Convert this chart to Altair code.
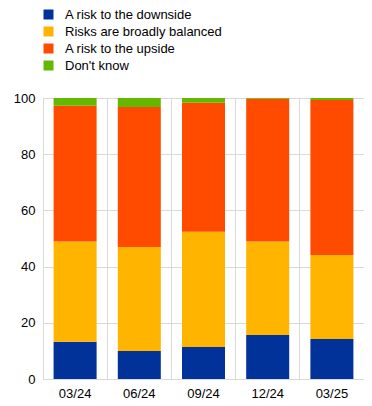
import altair as alt
import pandas as pd

periods = ["03/24", "06/24", "09/24", "12/24", "03/25"]
categories = ["A risk to the downside", "Risks are broadly balanced", "A risk to the upside", "Don't know"]
downside = [13.3, 10.0, 11.4, 15.7, 14.2]
balanced = [35.6, 37.0, 41.0, 33.2, 29.9]
upside = [48.3, 49.8, 45.9, 50.8, 55.2]
dontknow = [2.8, 3.2, 1.7, 0.3, 0.7]
colors = ["#003299", "#FFB400", "#FF4B00", "#65B800"]

rows = []
for i, p in enumerate(periods):
    for j, (c, vals) in enumerate(zip(categories, [downside, balanced, upside, dontknow])):
        rows.append({"period": p, "category": c, "value": vals[i], "order": j})
df = pd.DataFrame(rows)

font = "Liberation Sans"

chart = alt.Chart(df).mark_bar(width={"band": 0.67}).encode(
    x=alt.X("period:N", sort=periods, title=None,
            scale=alt.Scale(paddingInner=0, paddingOuter=0),
            axis=alt.Axis(labelAngle=0, grid=True, bandPosition=0, ticks=False,
                          domain=False, labelPadding=8, labelFontSize=13,
                          labelFont=font, labelColor="#000", gridColor="#d9d9d9")),
    y=alt.Y("value:Q", stack="zero", title=None,
            scale=alt.Scale(domain=[0, 100], nice=False),
            axis=alt.Axis(values=[0, 20, 40, 60, 80, 100], ticks=False, domain=False,
                          labelPadding=8, labelFontSize=13, labelFont=font,
                          labelColor="#000", gridColor="#d9d9d9")),
    color=alt.Color("category:N", sort=categories,
                    scale=alt.Scale(domain=categories, range=colors),
                    legend=alt.Legend(title=None, orient="none", legendX=-1, legendY=-90,
                                      padding=0, symbolType="square", symbolSize=100,
                                      symbolStrokeWidth=0, labelFontSize=13,
                                      labelFont=font, labelColor="#000",
                                      rowPadding=3, labelOffset=10)),
    order=alt.Order("order:Q"),
).properties(
    width=321, height=281,
    autosize=alt.AutoSizeParams(type="none"),
    padding={"left": 35, "top": 90, "right": 0, "bottom": 26},
).configure_view(stroke="#d9d9d9")

chart.save("out.html", embed_options={"renderer": "svg", "actions": False})
